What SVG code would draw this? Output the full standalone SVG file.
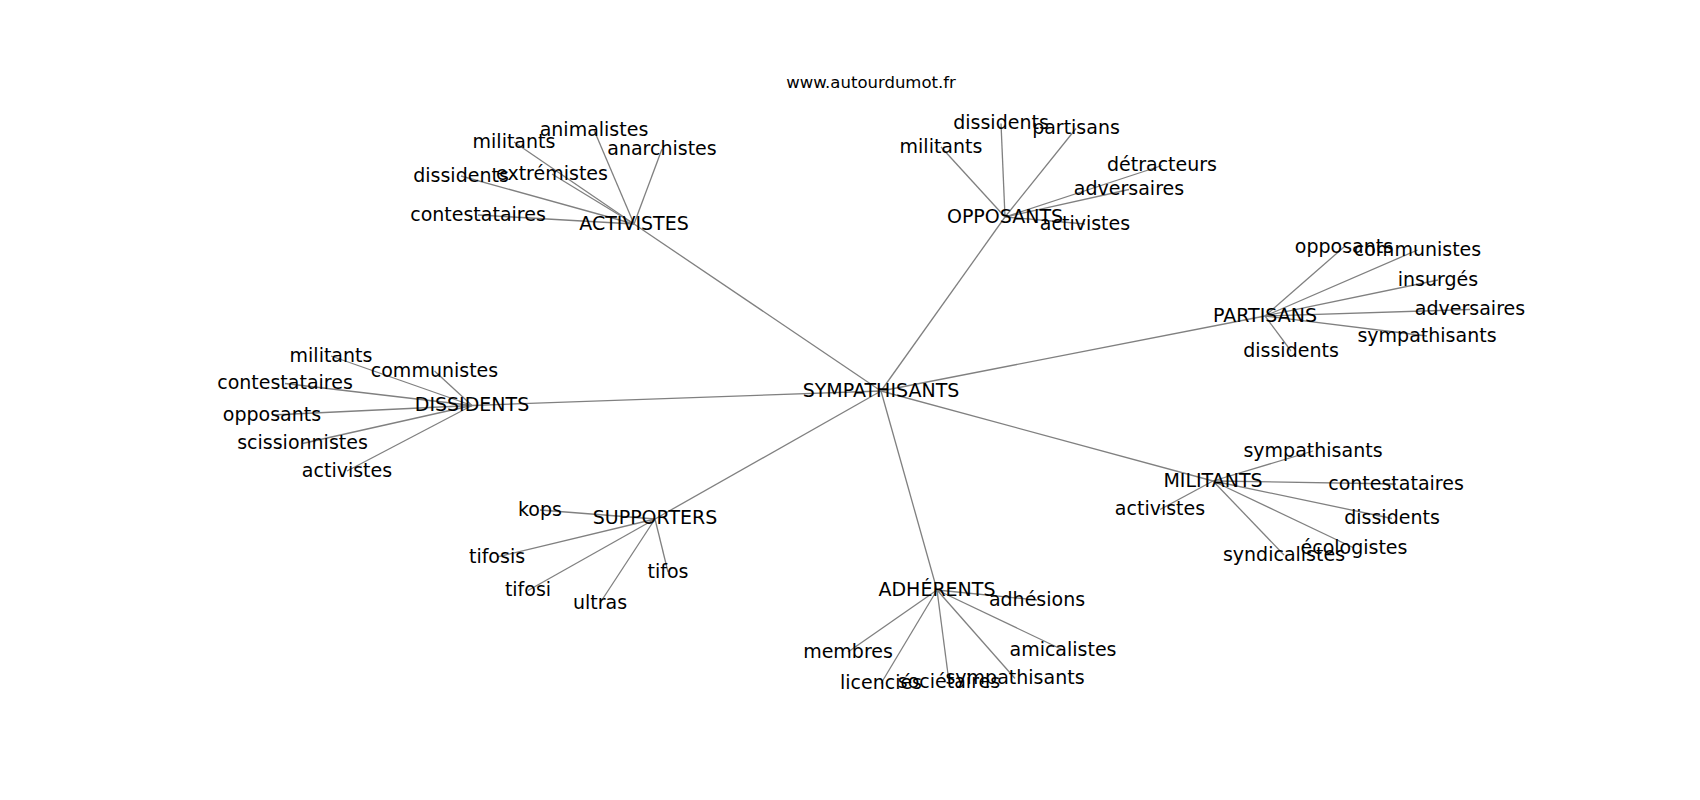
<svg xmlns="http://www.w3.org/2000/svg" width="1700" height="800" viewBox="0 0 1700 800">
<style>
text{font-family:"DejaVu Sans","Liberation Sans",sans-serif;font-size:19px;fill:#000;text-anchor:middle}
.title{font-size:16.5px}
#edges line{stroke:#808080;stroke-width:1.3}
</style>
<rect width="1700" height="800" fill="#fff"/>
<text class="title" x="871" y="87.5">www.autourdumot.fr</text>
<g id="edges">
<line x1="881" y1="391" x2="634" y2="224"/>
<line x1="881" y1="391" x2="1005" y2="217"/>
<line x1="881" y1="391" x2="1265" y2="316"/>
<line x1="881" y1="391" x2="472" y2="405.5"/>
<line x1="881" y1="391" x2="655" y2="519"/>
<line x1="881" y1="391" x2="937" y2="590"/>
<line x1="881" y1="391" x2="1213" y2="481"/>
<line x1="634" y1="224" x2="478" y2="215"/>
<line x1="634" y1="224" x2="461" y2="176"/>
<line x1="634" y1="224" x2="552" y2="174"/>
<line x1="634" y1="224" x2="514" y2="142"/>
<line x1="634" y1="224" x2="594" y2="130"/>
<line x1="634" y1="224" x2="662" y2="149"/>
<line x1="1005" y1="217" x2="941" y2="147"/>
<line x1="1005" y1="217" x2="1001" y2="123.5"/>
<line x1="1005" y1="217" x2="1076" y2="128.5"/>
<line x1="1005" y1="217" x2="1162" y2="165.5"/>
<line x1="1005" y1="217" x2="1129" y2="189.5"/>
<line x1="1005" y1="217" x2="1085" y2="224"/>
<line x1="1265" y1="316" x2="1344" y2="247"/>
<line x1="1265" y1="316" x2="1417.5" y2="250"/>
<line x1="1265" y1="316" x2="1438" y2="280"/>
<line x1="1265" y1="316" x2="1470" y2="309.5"/>
<line x1="1265" y1="316" x2="1427" y2="336"/>
<line x1="1265" y1="316" x2="1291" y2="351"/>
<line x1="472" y1="405.5" x2="331" y2="356"/>
<line x1="472" y1="405.5" x2="434.5" y2="371"/>
<line x1="472" y1="405.5" x2="285" y2="383.5"/>
<line x1="472" y1="405.5" x2="272" y2="415"/>
<line x1="472" y1="405.5" x2="302.5" y2="443.5"/>
<line x1="472" y1="405.5" x2="347" y2="471"/>
<line x1="655" y1="519" x2="540" y2="510"/>
<line x1="655" y1="519" x2="497" y2="557"/>
<line x1="655" y1="519" x2="528" y2="590.5"/>
<line x1="655" y1="519" x2="600" y2="603"/>
<line x1="655" y1="519" x2="668" y2="572"/>
<line x1="937" y1="590" x2="1037" y2="600"/>
<line x1="937" y1="590" x2="848" y2="652"/>
<line x1="937" y1="590" x2="881" y2="683.5"/>
<line x1="937" y1="590" x2="949" y2="682"/>
<line x1="937" y1="590" x2="1015" y2="678.5"/>
<line x1="937" y1="590" x2="1063" y2="650"/>
<line x1="1213" y1="481" x2="1313" y2="451"/>
<line x1="1213" y1="481" x2="1396" y2="484"/>
<line x1="1213" y1="481" x2="1160" y2="509.5"/>
<line x1="1213" y1="481" x2="1392" y2="518.5"/>
<line x1="1213" y1="481" x2="1354" y2="548"/>
<line x1="1213" y1="481" x2="1284" y2="555"/>
</g>
<g id="n-sympathisants"><text x="881" y="396.5">SYMPATHISANTS</text></g>
<g id="n-activistes"><text x="634" y="229.5">ACTIVISTES</text></g>
<g id="n-activistes-contestataires"><text x="478" y="220.5">contestataires</text></g>
<g id="n-activistes-dissidents"><text x="461" y="181.5">dissidents</text></g>
<g id="n-activistes-extremistes"><text x="552" y="179.5">extrémistes</text></g>
<g id="n-activistes-militants"><text x="514" y="147.5">militants</text></g>
<g id="n-activistes-animalistes"><text x="594" y="135.5">animalistes</text></g>
<g id="n-activistes-anarchistes"><text x="662" y="154.5">anarchistes</text></g>
<g id="n-opposants"><text x="1005" y="222.5">OPPOSANTS</text></g>
<g id="n-opposants-militants"><text x="941" y="152.5">militants</text></g>
<g id="n-opposants-dissidents"><text x="1001" y="129">dissidents</text></g>
<g id="n-opposants-partisans"><text x="1076" y="134">partisans</text></g>
<g id="n-opposants-detracteurs"><text x="1162" y="171">détracteurs</text></g>
<g id="n-opposants-adversaires"><text x="1129" y="195">adversaires</text></g>
<g id="n-opposants-activistes"><text x="1085" y="229.5">activistes</text></g>
<g id="n-partisans"><text x="1265" y="321.5">PARTISANS</text></g>
<g id="n-partisans-opposants"><text x="1344" y="252.5">opposants</text></g>
<g id="n-partisans-communistes"><text x="1417.5" y="255.5">communistes</text></g>
<g id="n-partisans-insurges"><text x="1438" y="285.5">insurgés</text></g>
<g id="n-partisans-adversaires"><text x="1470" y="315">adversaires</text></g>
<g id="n-partisans-sympathisants"><text x="1427" y="341.5">sympathisants</text></g>
<g id="n-partisans-dissidents"><text x="1291" y="356.5">dissidents</text></g>
<g id="n-dissidents"><text x="472" y="411">DISSIDENTS</text></g>
<g id="n-dissidents-militants"><text x="331" y="361.5">militants</text></g>
<g id="n-dissidents-communistes"><text x="434.5" y="376.5">communistes</text></g>
<g id="n-dissidents-contestataires"><text x="285" y="389">contestataires</text></g>
<g id="n-dissidents-opposants"><text x="272" y="420.5">opposants</text></g>
<g id="n-dissidents-scissionnistes"><text x="302.5" y="449">scissionnistes</text></g>
<g id="n-dissidents-activistes"><text x="347" y="476.5">activistes</text></g>
<g id="n-supporters"><text x="655" y="524">SUPPORTERS</text></g>
<g id="n-supporters-kops"><text x="540" y="515.5">kops</text></g>
<g id="n-supporters-tifosis"><text x="497" y="562.5">tifosis</text></g>
<g id="n-supporters-tifosi"><text x="528" y="596">tifosi</text></g>
<g id="n-supporters-ultras"><text x="600" y="608.5">ultras</text></g>
<g id="n-supporters-tifos"><text x="668" y="577.5">tifos</text></g>
<g id="n-adherents"><text x="937" y="595.5">ADHÉRENTS</text></g>
<g id="n-adherents-adhesions"><text x="1037" y="605.5">adhésions</text></g>
<g id="n-adherents-membres"><text x="848" y="657.5">membres</text></g>
<g id="n-adherents-licencies"><text x="881" y="689">licenciés</text></g>
<g id="n-adherents-societaires"><text x="949" y="687.5">sociétaires</text></g>
<g id="n-adherents-sympathisants"><text x="1015" y="684">sympathisants</text></g>
<g id="n-adherents-amicalistes"><text x="1063" y="655.5">amicalistes</text></g>
<g id="n-militants"><text x="1213" y="486.5">MILITANTS</text></g>
<g id="n-militants-sympathisants"><text x="1313" y="456.5">sympathisants</text></g>
<g id="n-militants-contestataires"><text x="1396" y="489.5">contestataires</text></g>
<g id="n-militants-activistes"><text x="1160" y="515">activistes</text></g>
<g id="n-militants-dissidents"><text x="1392" y="524">dissidents</text></g>
<g id="n-militants-ecologistes"><text x="1354" y="553.5">écologistes</text></g>
<g id="n-militants-syndicalistes"><text x="1284" y="560.5">syndicalistes</text></g>
</svg>
